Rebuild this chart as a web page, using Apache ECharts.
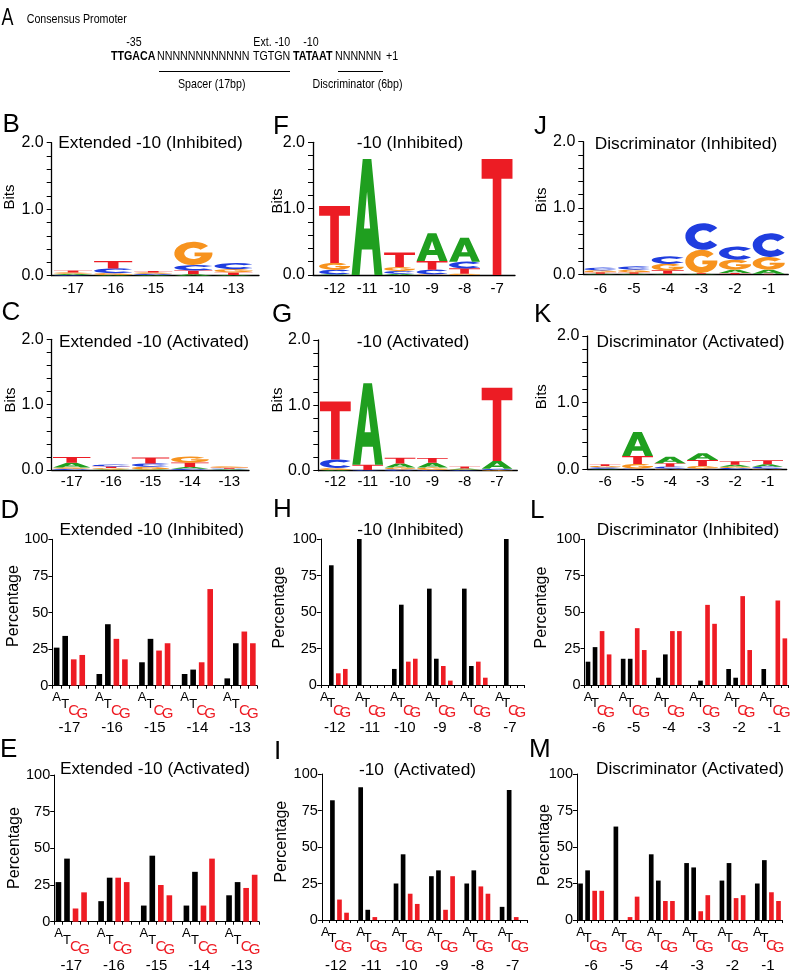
<!DOCTYPE html>
<html><head><meta charset="utf-8">
<script src="https://cdn.jsdelivr.net/npm/echarts@6/dist/echarts.min.js"></script>
<style>html,body{margin:0;padding:0;background:#fff}#c{width:800px;height:977px}</style>
</head><body><div id="c"></div>
<script>
// ---------- DATA ----------
const extPositions = ['-17','-16','-15','-14','-13'];
const tenPositions = ['-12','-11','-10','-9','-8','-7'];
const discPositions = ['-6','-5','-4','-3','-2','-1'];
const logoLetters = ['A','C','G','T'];
const barBases = ['A','T','C','G'];

// sequence-logo information (bits) per position, order [A, C, G, T]
const bitsExtInhibited = [[0.02,0.01,0.02,0.03],[0.01,0.07,0.03,0.11],[0.01,0.02,0.02,0.02],[0.02,0.08,0.35,0.06],[0.01,0.09,0.05,0.04]];
const bitsTenInhibited = [[0.01,0.07,0.10,0.86],[1.75,0,0,0],[0.02,0.04,0.06,0.22],[0.42,0.07,0.01,0.13],[0.36,0.10,0.02,0.08],[0,0,0,1.75]];
const bitsDiscInhibited = [[0.01,0.04,0.03,0.02],[0.01,0.05,0.04,0.02],[0.01,0.11,0.10,0.05],[0.01,0.40,0.35,0.01],[0.05,0.20,0.15,0.02],[0.06,0.36,0.19,0.01]];
const bitsExtActivated = [[0.07,0.02,0.02,0.09],[0.01,0.03,0.02,0.025],[0.01,0.05,0.04,0.09],[0.025,0.02,0.09,0.07],[0.01,0.01,0.02,0.015]];
const bitsTenActivated = [[0.01,0.13,0.03,0.89],[1.25,0.01,0,0.08],[0.06,0.02,0.03,0.09],[0.07,0.01,0.04,0.075],[0.015,0.01,0.01,0.03],[0.12,0.02,0.01,1.12]];
const bitsDiscActivated = [[0.01,0.02,0.02,0.025],[0.36,0.01,0.07,0.12],[0.10,0.03,0.01,0.05],[0.10,0.01,0.04,0.09],[0.03,0.02,0.02,0.05],[0.035,0.03,0.01,0.06]];

// base percentages per position, order [A, T, C, G]
const pctExtInhibited = [[26,34,18,21],[8,42,32,18],[16,32,24,29],[8,11,16,66],[5,29,37,29]];
const pctTenInhibited = [[0,82,8,11],[100,0,0,0],[11,55,16,18],[66,18,13,3],[66,13,16,5],[0,100,0,0]];
const pctDiscInhibited = [[16,26,37,21],[18,18,39,24],[5,21,37,37],[0,3,55,42],[11,5,61,24],[11,0,58,32]];
const pctExtActivated = [[27,43,9,20],[14,30,30,27],[11,45,25,18],[11,34,11,43],[18,27,23,32]];
const pctTenActivated = [[0,82,14,5],[91,7,2,0],[25,45,18,11],[30,34,7,30],[25,34,23,18],[9,89,2,0]];
const pctDiscActivated = [[25,34,20,20],[64,0,2,16],[45,27,13,13],[39,36,6,17],[27,39,15,17],[25,41,19,13]];

// ---------- STYLE ----------
const FONT = '"Liberation Sans", Arial, Helvetica, sans-serif';
const RED = '#ee1c24';
const COLORS = {A:'#1f9f1f', C:'#1f3ddf', G:'#f7931e', T:'#ec1c24'};
const GLYPH = {
  T: 'M0,0 L100,0 L100,17 L64,17 L64,100 L36,100 L36,17 L0,17 Z',
  A: 'M0,100 L36,0 L64,0 L100,100 L74,100 L67,78 L33,78 L26,100 Z M40,60 L60,60 L50,28 Z',
  C: 'M88.3,17.9 A50,50 0 1 0 88.3,82.1 L68.4,65.4 A24,24 0 1 1 68.4,34.6 Z',
  G: 'M88.3,17.9 A50,50 0 1 0 99.6,56 L99.6,46 L53,46 L53,62 L70.8,62 A24,24 0 1 1 68.4,34.6 Z'
};

const grid = [], xAxis = [], yAxis = [], series = [], graphic = [];
function addGrid(left, right, top, bottom){
  grid.push({left:left, top:top, width:right-left, height:bottom-top, containLabel:false});
  return grid.length-1;
}
function text(t, x, y, size, opts){
  opts = opts || {};
  graphic.push({type:'text', x:x, y:y, rotation: opts.rot || 0, scaleX: opts.sx || 1, silent:true,
    style:{text:t, fontSize:size, fontFamily: FONT, fontWeight: opts.bold ? 'bold':'normal',
      fill: opts.color || '#000', align: opts.align || 'center', verticalAlign:'middle'}});
}
function hline(x1, x2, y){
  graphic.push({type:'line', silent:true, shape:{x1:x1,y1:y,x2:x2,y2:y}, style:{stroke:'#000', lineWidth:1}});
}

function logoRender(bits){
  return function(params, api){
    const i = params.dataIndex;
    const h = bits[i];
    const order = logoLetters.map((l,k)=>({l:l, v:h[k]})).filter(o=>o.v>0).sort((a,b)=>a.v-b.v);
    const band = api.size([1,0])[0];
    const w = band*0.95;
    const cx = api.coord([i,0])[0];
    let cum = 0;
    const children = [];
    order.forEach(o=>{
      const p0 = api.coord([i,cum]);
      const p1 = api.coord([i,cum+o.v]);
      cum += o.v;
      children.push({type:'path', shape:{pathData:GLYPH[o.l], x:cx-w/2, y:p1[1], width:w, height:Math.max(p0[1]-p1[1],0.3), layout:'cover'},
        style:{fill:COLORS[o.l]}});
    });
    return {type:'group', children:children};
  };
}

function logoPanel(c){
  const g1 = addGrid(c.frame[0], c.frame[1], c.frame[2], c.frame[3]);
  xAxis.push({gridIndex:g1, type:'value', min:0, max:1, axisLine:{show:true, onZero:false, lineStyle:{color:'#000', width:1.3}},
    axisTick:{show:false}, axisLabel:{show:false}, splitLine:{show:false}});
  yAxis.push({gridIndex:g1, type:'value', min:0, max:2, interval:0.2,
    axisLine:{show:true, lineStyle:{color:'#000', width:1.3}},
    axisTick:{show:true, length:5, lineStyle:{color:'#000', width:1}},
    axisLabel:{margin:8, fontSize:16, color:'#000', fontFamily:FONT,
      formatter: v => Math.abs(v-Math.round(v))<1e-6 ? v.toFixed(1) : ''},
    splitLine:{show:false}});
  const g2 = addGrid(c.data[0], c.data[1], c.frame[2], c.frame[3]);
  const xi = xAxis.length;
  xAxis.push({gridIndex:g2, type:'category', data:c.pos, axisLine:{show:false}, axisTick:{show:false},
    axisLabel:{margin:c.lm, fontSize:15, color:'#000', fontFamily:FONT, interval:0}});
  const yi = yAxis.length;
  yAxis.push({gridIndex:g2, type:'value', min:0, max:2, show:false});
  series.push({type:'custom', xAxisIndex:xi, yAxisIndex:yi, silent:true, clip:false,
    renderItem: logoRender(c.bits),
    data: c.bits.map((h,i)=>[i, h.reduce((a,b)=>a+b,0)]), encode:{x:0, y:1}});
  text(c.title, c.tx, c.ty, 16, {sx:1.08});
  text('Bits', c.nx, c.ny, 15, {rot:Math.PI/2});
  text(c.letter, c.lx, c.ly, 26, {align:'left'});
}

function barPanel(c){
  const n = c.pos.length, slots = n*5-1;
  const left = c.box[0], slot = c.box[1], top = c.box[2], bot = c.box[3];
  const g1 = addGrid(left, left+slots*slot, top, bot);
  const names = [], data = [];
  for (let k=0;k<n;k++){
    for (let b=0;b<4;b++){
      names.push(c.pos[k]+barBases[b]);
      data.push({value:c.pct[k][b], itemStyle:{color: b<2 ? '#000' : RED}});
    }
    if (k<n-1){ names.push(c.pos[k]+'gap'); data.push(null); }
  }
  const xi = xAxis.length;
  xAxis.push({gridIndex:g1, type:'category', data:names,
    axisLine:{show:true, onZero:false, lineStyle:{color:'#000', width:1}},
    axisTick:{show:true, interval:0, length:3, lineStyle:{color:'#000'}},
    axisLabel:{interval:0, margin:2, fontFamily:FONT,
      formatter:(v,i)=>['{a|A}','{t|T}','{c|C}','{g|G}',''][i%5],
      rich:{a:{fontSize:13, lineHeight:20, color:'#000', fontFamily:FONT},
            t:{fontSize:13, lineHeight:33, color:'#000', fontFamily:FONT},
            c:{fontSize:15, lineHeight:47, color:RED, fontFamily:FONT},
            g:{fontSize:15, lineHeight:52, color:RED, fontFamily:FONT}}},
    splitLine:{show:false}});
  const yi = yAxis.length;
  yAxis.push({gridIndex:g1, type:'value', min:0, max:100, interval:25,
    axisLine:{show:true, lineStyle:{color:'#000', width:1}},
    axisTick:{show:true, length:4, lineStyle:{color:'#000'}},
    axisLabel:{margin:4, fontSize:14.5, color:'#000', fontFamily:FONT}, splitLine:{show:false}});
  series.push({type:'bar', xAxisIndex:xi, yAxisIndex:yi, data:data, barWidth:'66%', silent:true});
  // position-number axis (one band per group of 5 slots)
  const g2 = addGrid(left-0.5*slot, left-0.5*slot+n*5*slot, top, bot);
  xAxis.push({gridIndex:g2, type:'category', data:c.pos, axisLine:{show:false}, axisTick:{show:false},
    axisLabel:{interval:0, margin:c.lm, fontSize:15, color:'#000', fontFamily:FONT}});
  yAxis.push({gridIndex:g2, type:'value', min:0, max:100, show:false});
  text(c.title, c.tx, c.ty, 16, {sx:1.08});
  text('Percentage', c.nx, c.ny, 16, {rot:Math.PI/2});
  text(c.letter, c.lx, c.ly, 26, {align:'left'});
}

// ---------- PANEL A ----------
const NX = 0.82;
text('A', 1.5, 18.5, 23, {align:'left', sx:0.78});
text('Consensus Promoter', 26.7, 19.5, 13, {align:'left', sx:NX});
text('-35', 134, 42.5, 13, {sx:NX});
text('Ext. -10', 271.7, 42.5, 13, {sx:NX});
text('-10', 311, 42.5, 13, {sx:NX});
text('TTGACA', 111, 56.5, 13, {align:'left', sx:NX, bold:true});
text('NNNNNNNNNNNN', 157, 56.5, 13, {align:'left', sx:NX});
text('TGTGN', 253, 56.5, 13, {align:'left', sx:NX});
text('TATAAT', 293, 56.5, 13, {align:'left', sx:NX, bold:true});
text('NNNNNN', 335, 56.5, 13, {align:'left', sx:NX});
text('+1', 386, 56.5, 13, {align:'left', sx:NX});
hline(159, 290, 71.5);
hline(338, 383, 71.5);
text('Spacer (17bp)', 211.7, 84, 13, {sx:NX});
text('Discriminator (6bp)', 357.5, 84, 13, {sx:NX});

// ---------- LOGO PANELS ----------
logoPanel({pos:extPositions, bits:bitsExtInhibited, frame:[51.7,259,142.7,275.7], data:[53,253.5], lm:6,
  title:'Extended -10 (Inhibited)', tx:150.5, ty:144, nx:10, ny:197, letter:'B', lx:2.5, ly:125});
logoPanel({pos:tenPositions, bits:bitsTenInhibited, frame:[313,515,142.3,275], data:[318.3,513.3], lm:6.5,
  title:'-10 (Inhibited)', tx:410, ty:144, nx:278.3, ny:201, letter:'F', lx:273, ly:126.5});
logoPanel({pos:discPositions, bits:bitsDiscInhibited, frame:[583.3,788.3,141.7,274.3], data:[583.5,785.5], lm:7,
  title:'Discriminator (Inhibited)', tx:686, ty:145, nx:541.7, ny:200, letter:'J', lx:534, ly:126.5});
logoPanel({pos:extPositions, bits:bitsExtActivated, frame:[51.7,249,339.3,470], data:[52,249], lm:4,
  title:'Extended -10 (Activated)', tx:154, ty:342.3, nx:10.5, ny:400, letter:'C', lx:1.5, ly:313});
logoPanel({pos:tenPositions, bits:bitsTenActivated, frame:[318.3,517.3,340,470.7], data:[319.2,513.2], lm:3.5,
  title:'-10 (Activated)', tx:413, ty:342.7, nx:277.5, ny:400, letter:'G', lx:272, ly:315});
logoPanel({pos:discPositions, bits:bitsDiscActivated, frame:[587.3,786.7,336,469.3], data:[588.8,783.8], lm:5,
  title:'Discriminator (Activated)', tx:690.5, ty:342.3, nx:541.7, ny:396.7, letter:'K', lx:534, ly:315});

// ---------- BAR PANELS ----------
barPanel({pos:extPositions, pct:pctExtInhibited, box:[52.4,8.53,539.3,685.7], lm:35,
  title:'Extended -10 (Inhibited)', tx:151.7, ty:530.7, nx:13.3, ny:606, letter:'D', lx:0.5, ly:511});
barPanel({pos:tenPositions, pct:pctTenInhibited, box:[320.8,7.0,539,685], lm:35.8,
  title:'-10 (Inhibited)', tx:410.5, ty:530.7, nx:279.5, ny:607.5, letter:'H', lx:273, ly:510});
barPanel({pos:discPositions, pct:pctDiscInhibited, box:[584.5,7.03,539.3,685], lm:35.8,
  title:'Discriminator (Inhibited)', tx:688, ty:530.7, nx:541.5, ny:607.5, letter:'L', lx:530, ly:511});
barPanel({pos:extPositions, pct:pctExtActivated, box:[54.2,8.53,775,921.7], lm:37,
  title:'Extended -10 (Activated)', tx:155, ty:770, nx:15, ny:848, letter:'E', lx:0, ly:750});
barPanel({pos:tenPositions, pct:pctTenActivated, box:[321.8,7.07,774,920], lm:38.5,
  title:'-10  (Activated)', tx:417.5, ty:770.7, nx:281.5, ny:841.7, letter:'I', lx:274, ly:752});
barPanel({pos:discPositions, pct:pctDiscActivated, box:[577,7.07,774,920], lm:38,
  title:'Discriminator (Activated)', tx:690, ty:770, nx:545, ny:845, letter:'M', lx:529, ly:750});

const chart = echarts.init(document.getElementById('c'), null, {renderer:'canvas'});
chart.setOption({animation:false, backgroundColor:'#fff', grid:grid, xAxis:xAxis, yAxis:yAxis, series:series, graphic:graphic});
</script></body></html>
